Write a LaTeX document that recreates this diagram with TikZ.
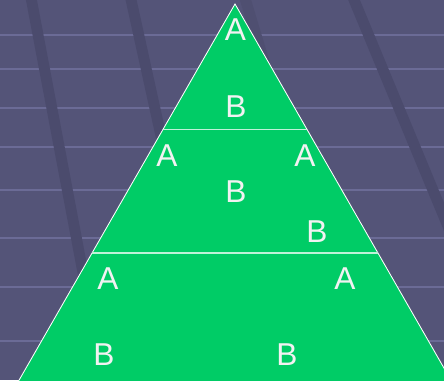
\documentclass[tikz,border=0pt]{standalone}
\usepackage{fontspec}
\setmainfont{Liberation Sans}
\usepackage{tikz}
\usetikzlibrary{calc}
\usepackage{xcolor}
\definecolor{wallslate}{HTML}{545478}
\definecolor{wallstripe}{HTML}{6B6B96}
\definecolor{wallgroove}{HTML}{4B4B6D}
\definecolor{pyrgreen}{HTML}{00CC66}
\definecolor{pyrtext}{HTML}{F2F2F2}

\tikzset{
  lbl/.style={font=\fontsize{22.5}{27}\selectfont, text=pyrtext, inner sep=0pt},
  groove/.style={wallgroove, line width=0.27cm},
  divider/.style={white!75!pyrgreen, line width=0.9pt}
}

\begin{document}
\begin{tikzpicture}[x=0.025cm, y=-0.025cm]
  \useasboundingbox (0,0) rectangle (444,380);
  \clip (0,0) rectangle (444,380);

  % Background wall
  \fill[wallslate] (0,0) rectangle (444,380);
  \foreach \y in {35,69,108,147,190,238,287,341}
    \fill[wallstripe] (0,\y-1.3) rectangle (444,\y+1.3);

  % Diagonal grooves
  \draw[groove] (30.5,-5) -- (107,400);
  \draw[groove] (130,-5) -- (219,400);
  \draw[groove, wallgroove!60!wallslate] (244,-5) -- (366,400);
  \draw[groove] (352,-5) -- (520,400);

  % Pyramid
  \coordinate (apex) at (235,4);
  \coordinate (baseL) at (18,382);
  \coordinate (baseR) at (452,382);
  \draw[white, line width=0.6pt, fill=pyrgreen] (apex) -- (baseL) -- (baseR) -- cycle;

  % Levels
  \draw[divider] ($(apex)!0.332!(baseL)$) -- ($(apex)!0.332!(baseR)$);
  \draw[divider] ($(apex)!0.6587!(baseL)$) -- ($(apex)!0.6587!(baseR)$);

  % Top level
  \node[lbl] (topA) at (235.5,30) {A};
  \node[lbl] (topB) at (236,107) {B};

  % Middle level
  \node[lbl] (midAl) at (167,156) {A};
  \node[lbl] (midAr) at (305,156) {A};
  \node[lbl] (midB) at (236,192) {B};
  \node[lbl] (midBr) at (317,231.5) {B};

  % Bottom level
  \node[lbl] (botAl) at (108,278.5) {A};
  \node[lbl] (botAr) at (345,278.5) {A};
  \node[lbl] (botBl) at (104,355) {B};
  \node[lbl] (botBr) at (287,355) {B};
\end{tikzpicture}
\end{document}
